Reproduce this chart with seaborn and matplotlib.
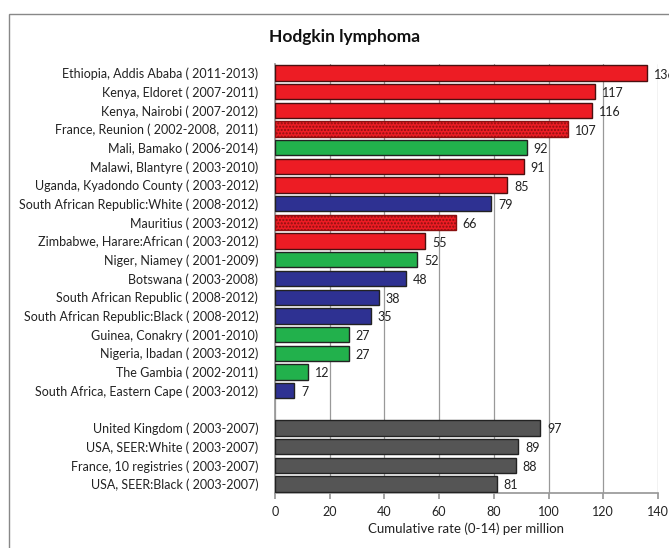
import numpy as np
import pandas as pd
import matplotlib
matplotlib.use('Agg')
import matplotlib.pyplot as plt
import seaborn as sns
from matplotlib.patches import Rectangle

sns.set_theme(style='white')
plt.rcParams['font.family'] = ['Lato', 'DejaVu Sans']

# Registries (top to bottom); '' marks the gap between the two groups
registries = [
    'Ethiopia, Addis Ababa ( 2011-2013)',
    'Kenya, Eldoret ( 2007-2011)',
    'Kenya, Nairobi ( 2007-2012)',
    'France, Reunion ( 2002-2008,  2011)',
    'Mali, Bamako ( 2006-2014)',
    'Malawi, Blantyre ( 2003-2010)',
    'Uganda, Kyadondo County ( 2003-2012)',
    'South African Republic:White ( 2008-2012)',
    'Mauritius ( 2003-2012)',
    'Zimbabwe, Harare:African ( 2003-2012)',
    'Niger, Niamey ( 2001-2009)',
    'Botswana ( 2003-2008)',
    'South African Republic ( 2008-2012)',
    'South African Republic:Black ( 2008-2012)',
    'Guinea, Conakry ( 2001-2010)',
    'Nigeria, Ibadan ( 2003-2012)',
    'The Gambia ( 2002-2011)',
    'South Africa, Eastern Cape ( 2003-2012)',
    '',
    'United Kingdom ( 2003-2007)',
    'USA, SEER:White ( 2003-2007)',
    'France, 10 registries ( 2003-2007)',
    'USA, SEER:Black ( 2003-2007)',
]
rates = [136, 117, 116, 107, 92, 91, 85, 79, 66, 55, 52, 48, 38, 35, 27, 27, 12, 7,
         np.nan, 97, 89, 88, 81]
region = ['east', 'east', 'east', 'island', 'west', 'east', 'east', 'south',
          'island', 'east', 'west', 'south', 'south', 'south', 'west', 'west',
          'west', 'south', 'none', 'ref', 'ref', 'ref', 'ref']

colors = {'east': '#ED1C24', 'island': '#ED1C24', 'west': '#22B14C',
          'south': '#2E3192', 'ref': '#555555', 'none': '#FFFFFF'}

df = pd.DataFrame({'registry': registries, 'rate': rates, 'region': region})
df['slot'] = [f'r{i}' for i in range(len(df))]

fig = plt.figure(figsize=(6.69, 5.48), dpi=100)
ax = fig.add_axes([0.411, 0.0998, 0.5725, 0.784])

sns.barplot(data=df, x='rate', y='slot', hue='slot',
            palette=[colors[r] for r in df['region']], saturation=1,
            orient='h', width=0.82, legend=False, ax=ax, zorder=3)

for patch, reg in zip(ax.patches, df['region']):
    patch.set_edgecolor('#4a1010' if reg in ('east', 'island') else '#222222')
    patch.set_linewidth(1.0)
    if reg == 'island':
        patch.set_hatch('.....')
        patch.set_edgecolor('#8a1010')

# value labels
for i, v in enumerate(df['rate']):
    if not np.isnan(v):
        ax.text(v + 2.5, i + 0.08, f'{int(v)}', va='center', ha='left',
                fontsize=9, color='#222222', zorder=4)

ax.set_yticks(range(len(df)))
ax.set_yticklabels(df['registry'], fontsize=9, color='#222222')
ax.set_ylim(len(df) - 0.5, -0.5)
ax.set_xlim(0, 140)
ax.set_xticks(range(0, 141, 20))
ax.tick_params(axis='x', labelsize=9, colors='#222222', length=4,
               direction='out', bottom=True, pad=5, color='#999999')
ax.tick_params(axis='y', length=0, pad=12)
ax.xaxis.grid(True, color='#999999', linewidth=0.9, zorder=0)
ax.set_axisbelow(True)
ax.set_ylabel('')
ax.set_xlabel('Cumulative rate (0-14) per million', fontsize=9.5,
              color='#222222', labelpad=3)

for side in ['top', 'right']:
    ax.spines[side].set_visible(False)
ax.spines['left'].set_color('#999999')
ax.spines['bottom'].set_color('#999999')

fig.text(0.515, 0.932, 'Hodgkin lymphoma', ha='center', va='center',
         fontsize=12.5, fontweight='bold', color='#111111')

# outer chart frame
fig.patches.append(Rectangle((9 / 669, -0.1), 1.2, 1 - 14 / 548 + 0.1,
                             transform=fig.transFigure, fill=False,
                             edgecolor='#888888', linewidth=1.0))

fig.savefig('out.png', dpi=100)
